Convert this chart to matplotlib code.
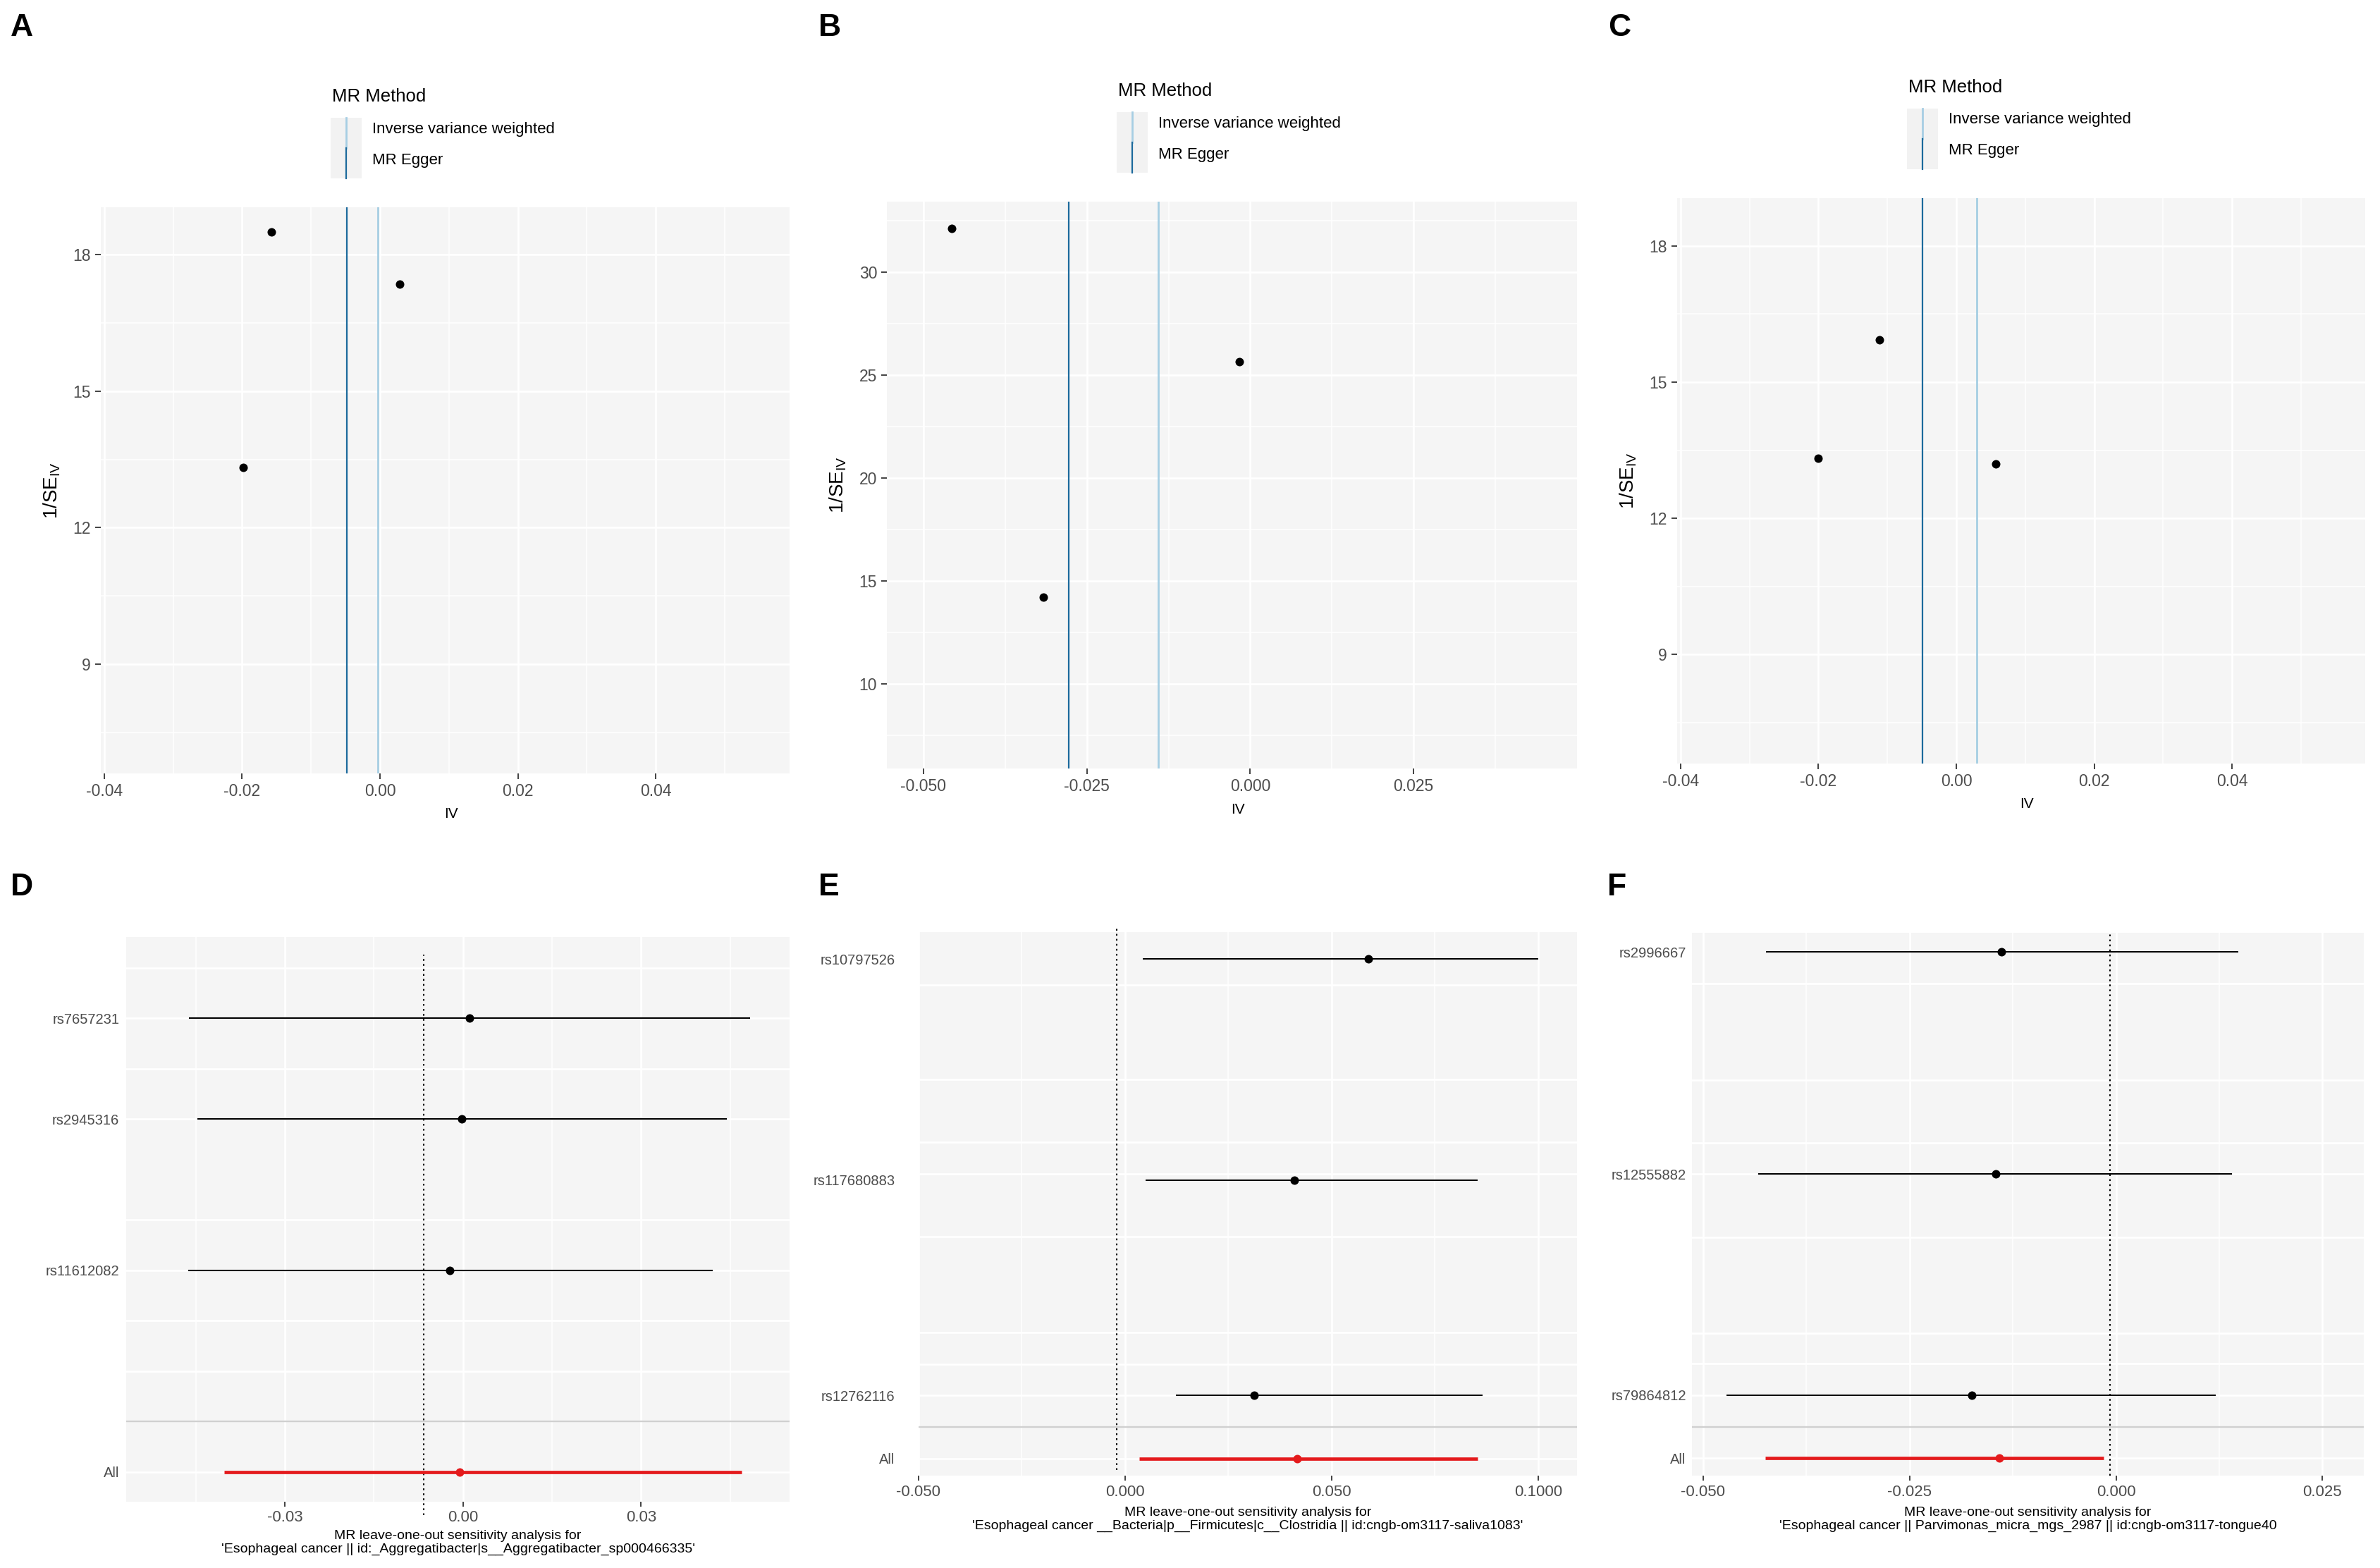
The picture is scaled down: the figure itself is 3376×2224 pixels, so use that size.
import matplotlib
matplotlib.use('Agg')
import matplotlib.pyplot as plt
from matplotlib.patches import Rectangle

plt.rcParams['font.family'] = ['Liberation Sans', 'DejaVu Sans']
plt.rcParams['mathtext.fontset'] = 'custom'
plt.rcParams['mathtext.rm'] = 'Liberation Sans'
plt.rcParams['mathtext.it'] = 'Liberation Sans:italic'

W, H = 3376, 2224
BG = '#F5F5F5'
TICK_TXT = '#4D4D4D'
IVW_COL = '#A6CEE3'
EGGER_COL = '#1C6A9C'

# ---------------- funnel plots (A, B, C) ----------------
a_b = [-0.0158, 0.0029, -0.0198]
a_inv_se = [18.50, 17.35, 13.32]
a_ivw, a_egger = -0.0003, -0.0048

b_b = [-0.0457, -0.0017, -0.0317]
b_inv_se = [32.14, 25.67, 14.23]
b_ivw, b_egger = -0.0141, -0.0278

c_b = [-0.0112, -0.0200, 0.0057]
c_inv_se = [15.93, 13.32, 13.19]
c_ivw, c_egger = 0.0030, -0.0049

ac_xticks = [-0.04, -0.02, 0.0, 0.02, 0.04]
ac_xticklabels = ['-0.04', '-0.02', '0.00', '0.02', '0.04']
ac_yticks = [9, 12, 15, 18]
b_xticks = [-0.05, -0.025, 0.0, 0.025]
b_xticklabels = ['-0.050', '-0.025', '0.000', '0.025']
b_yticks = [10, 15, 20, 25, 30]

# ---------------- leave-one-out plots (D, E, F) ----------------
d_snp = ['rs7657231', 'rs2945316', 'rs11612082', 'All']
d_b = [0.0011, -0.0002, -0.0022, -0.0006]
d_lo = [-0.0461, -0.0447, -0.0463, -0.0402]
d_up = [0.0484, 0.0444, 0.0421, 0.0469]
d_slot = [9, 7, 4, 0]

e_snp = ['rs10797526', 'rs117680883', 'rs12762116', 'All']
e_b = [0.0589, 0.0409, 0.0313, 0.0416]
e_lo = [0.0043, 0.0050, 0.0123, 0.0034]
e_up = [0.1000, 0.0854, 0.0866, 0.0854]
e_slot = [15.93, 8.88, 2.02, 0]

f_snp = ['rs2996667', 'rs12555882', 'rs79864812', 'All']
f_b = [-0.0139, -0.0146, -0.0175, -0.0141]
f_lo = [-0.0424, -0.0433, -0.0472, -0.0425]
f_up = [0.0148, 0.0140, 0.0121, -0.0015]
f_slot = [16.2, 9.1, 2.02, 0]

d_xticks = [-0.03, 0.0, 0.03]
d_xticklabels = ['-0.03', '0.00', '0.03']
e_xticks = [-0.05, 0.0, 0.05, 0.10]
e_xticklabels = ['-0.050', '0.000', '0.050', '0.1000']
f_xticks = [-0.05, -0.025, 0.0, 0.025]
f_xticklabels = ['-0.050', '-0.025', '0.000', '0.025']

d_title = "MR leave-one-out sensitivity analysis for\n'Esophageal cancer || id:_Aggregatibacter|s__Aggregatibacter_sp000466335'"
e_title = "MR leave-one-out sensitivity analysis for\n'Esophageal cancer __Bacteria|p__Firmicutes|c__Clostridia || id:cngb-om3117-saliva1083'"
f_title = "MR leave-one-out sensitivity analysis for\n'Esophageal cancer || Parvimonas_micra_mgs_2987 || id:cngb-om3117-tongue40"


def px_axes(fig, l, t, r, b):
    return fig.add_axes([l / W, 1 - b / H, (r - l) / W, (b - t) / H])


fig = plt.figure(figsize=(W / 100, H / 100), dpi=100)
ov = fig.add_axes([0, 0, 1, 1])
ov.set_xlim(0, W)
ov.set_ylim(H, 0)
ov.axis('off')
ov.patch.set_visible(False)


def style_panel(ax):
    ax.set_facecolor(BG)
    for s in ax.spines.values():
        s.set_visible(False)


def funnel(rect, bvals, inv_se, ivw, egger, xlim, ylim, xticks, xlabels, yticks,
           xminor, yminor):
    l, t, r, btm = rect
    ax = px_axes(fig, *rect)
    style_panel(ax)
    ax.set_xlim(*xlim)
    ax.set_ylim(*ylim)
    for x in xticks:
        ax.axvline(x, color='white', lw=2.0, zorder=0.5)
    for x in xminor:
        ax.axvline(x, color='white', lw=1.1, zorder=0.5)
    for y in yticks:
        ax.axhline(y, color='white', lw=2.0, zorder=0.5)
    for y in yminor:
        ax.axhline(y, color='white', lw=1.1, zorder=0.5)
    ax.axvline(ivw, color=IVW_COL, lw=2.0, zorder=2)
    ax.axvline(egger, color=EGGER_COL, lw=1.6, zorder=2)
    ax.scatter(bvals, inv_se, s=75, color='black', zorder=3, linewidths=0)
    ax.set_xticks(xticks)
    ax.set_xticklabels(xlabels)
    ax.set_yticks(yticks)
    ax.tick_params(axis='both', length=6, width=1.3, color='#333333',
                   labelcolor=TICK_TXT, labelsize=16.5, pad=4)
    # axis titles
    ov.text(l - 69, (t + btm) / 2, r'$1/\mathrm{SE}_{\mathrm{IV}}$', rotation=90,
            ha='center', va='center', fontsize=20, color='black')
    ov.text((l + r) / 2 + 8, btm + 58, 'IV', ha='center', va='center',
            fontsize=15, color='black')
    # legend
    ov.text(l + 328, t - 157, 'MR Method', ha='left', va='center', fontsize=18.5)
    ov.add_patch(Rectangle((l + 326, t - 127), 44, 86, facecolor='#F2F2F2',
                           edgecolor='none'))
    ov.plot([l + 348, l + 348], [t - 127, t - 84], color=IVW_COL, lw=2.0)
    ov.plot([l + 348, l + 348], [t - 84, t - 41], color=EGGER_COL, lw=1.6)
    ov.text(l + 385, t - 111, 'Inverse variance weighted', ha='left',
            va='center', fontsize=16)
    ov.text(l + 385, t - 67, 'MR Egger', ha='left', va='center', fontsize=16)
    return ax


funnel((143, 294, 1120, 1097), a_b, a_inv_se, a_ivw, a_egger,
       (-0.0405, 0.0594), (6.60, 19.04), ac_xticks, ac_xticklabels, ac_yticks,
       [-0.03, -0.01, 0.01, 0.03, 0.05], [7.5, 10.5, 13.5, 16.5])
funnel((1258, 286, 2237, 1090), b_b, b_inv_se, b_ivw, b_egger,
       (-0.0556, 0.0500), (5.90, 33.43), b_xticks, b_xticklabels, b_yticks,
       [-0.0375, -0.0125, 0.0125, 0.0375], [7.5, 12.5, 17.5, 22.5, 27.5, 32.5])
funnel((2379, 281, 3355, 1083), c_b, c_inv_se, c_ivw, c_egger,
       (-0.0405, 0.0593), (6.60, 19.05), ac_xticks, ac_xticklabels, ac_yticks,
       [-0.03, -0.01, 0.01, 0.03, 0.05], [7.5, 10.5, 13.5, 16.5])


def loo(rect, snps, bvals, lo, up, slots, xlim, ylim, xticks, xlabels, xminor,
        grid_slots, zero_x, dot_span, ypad, title, title_y):
    l, t, r, btm = rect
    ax = px_axes(fig, *rect)
    style_panel(ax)
    ax.set_xlim(*xlim)
    ax.set_ylim(*ylim)
    for x in xticks:
        ax.axvline(x, color='white', lw=2.0, zorder=0.5)
    for x in xminor:
        ax.axvline(x, color='white', lw=1.1, zorder=0.5)
    for y in grid_slots:
        ax.axhline(y, color='white', lw=2.0, zorder=0.5)
    ax.axhline(1, color='#D0D0D0', lw=1.7, zorder=1)
    ax.axvline(zero_x, ymin=dot_span[0], ymax=dot_span[1], color='black',
               lw=1.5, linestyle=(0, (1.2, 2.2)), zorder=2, clip_on=False)
    for i, snp in enumerate(snps):
        col = '#E41A1C' if snp == 'All' else 'black'
        lw = 3.4 if snp == 'All' else 1.5
        ax.plot([lo[i], up[i]], [slots[i], slots[i]], color=col, lw=lw,
                zorder=3, solid_capstyle='butt')
        ax.scatter([bvals[i]], [slots[i]], s=75, color=col, zorder=4,
                   linewidths=0)
    ax.set_yticks(slots)
    ax.set_yticklabels(snps)
    ax.set_xticks(xticks)
    ax.set_xticklabels(xlabels)
    ax.tick_params(axis='x', length=5, width=1.3, color='#333333',
                   labelcolor=TICK_TXT, labelsize=16, pad=4)
    ax.tick_params(axis='y', length=0, labelcolor=TICK_TXT, labelsize=14.5,
                   pad=ypad)
    ov.text((l + r) / 2, title_y, title, ha='center', va='center',
            fontsize=14, linespacing=1.1, color='black')
    return ax


loo((179, 1329, 1120, 2130), d_snp, d_b, d_lo, d_up, d_slot,
    (-0.0567, 0.0550), (-0.594, 10.615), d_xticks, d_xticklabels,
    [-0.045, -0.015, 0.015, 0.045], [0, 2, 3, 4, 5, 7, 8, 9, 10],
    -0.0066, (-0.024, 0.969), 7, d_title, 2188)
loo((1303, 1322, 2237, 2093), e_snp, e_b, e_lo, e_up, e_slot,
    (-0.0498, 0.1094), (-0.54, 16.79), e_xticks, e_xticklabels,
    [-0.025, 0.025, 0.075], [0, 2.02, 3.01, 4.03, 7.07, 9.09, 10.1, 12.1, 15.1],
    -0.0020, (0.01, 1.008), 24, e_title, 2155)
loo((2400, 1323, 3353, 2093), f_snp, f_b, f_lo, f_up, f_slot,
    (-0.05135, 0.0300), (-0.56, 16.82), f_xticks, f_xticklabels,
    [-0.0375, -0.0125, 0.0125], [0, 2.02, 3.02, 4.0, 7.07, 9.1, 10.1, 12.1, 15.2],
    -0.0007, (0.0, 1.0), 6, f_title, 2155)

# panel letters
for letter, x, y in [('A', 15, 51), ('B', 1161, 51), ('C', 2281, 51),
                     ('D', 15, 1270), ('E', 1161, 1270), ('F', 2280, 1270)]:
    ov.text(x, y, letter, ha='left', va='baseline', fontsize=32,
            fontweight='bold', color='black')

fig.savefig('out.png', dpi=100)
